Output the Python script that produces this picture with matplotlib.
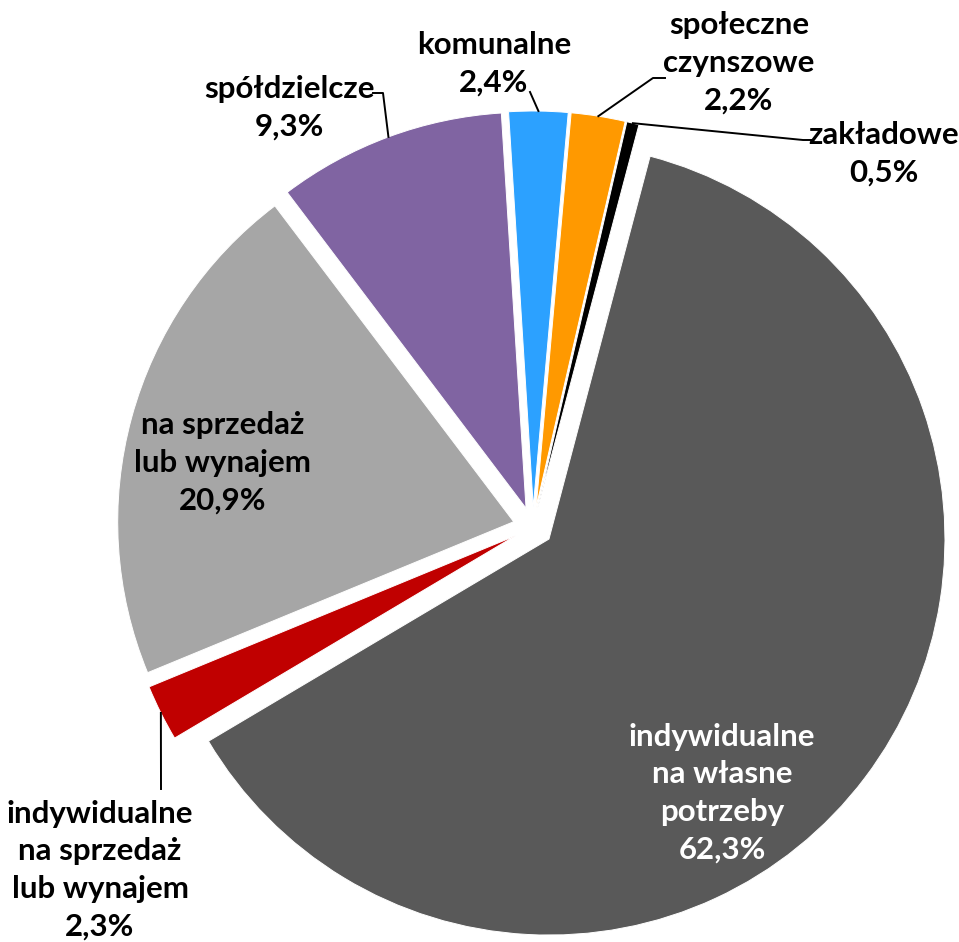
import numpy as np
import matplotlib.pyplot as plt

W, H = 959, 942

labels = ['indywidualne\nna własne\npotrzeby', 'indywidualne\nna sprzedaż\nlub wynajem',
          'na sprzedaż\nlub wynajem', 'spółdzielcze', 'komunalne',
          'społeczne\nczynszowe', 'zakładowe']
shares = [62.3, 2.3, 20.9, 9.3, 2.4, 2.2, 0.5]
colors = ['#595959', '#C00000', '#A6A6A6', '#8064A2', '#2CA1FF', '#FF9900', '#000000']
text_colors = ['white', 'black', 'black', 'black', 'black', 'black', 'black']

# label centres in image pixels (y down)
label_pos = [(722, 793), (100, 870), (223, 463), (289, 108), (494, 64), (739, 63), (884, 154)]
# leader line bends (None = label inside the slice)
leaders = [None, [(161, 789)], None, [(373, 93), (383, 93)], [(530, 92)],
           [(665, 78), (653, 78)], [(812, 140), (803, 140)]]

plt.rcParams['font.family'] = ['Lato', 'DejaVu Sans']

fig = plt.figure(figsize=(W / 100, H / 100), dpi=100)
ax = fig.add_axes([0, 0, 1, 1])

R = 396
# explode is in data units here (pixels), y axis flipped so slices run clockwise on screen
wedges, _ = ax.pie(shares, colors=colors, startangle=-75.2, counterclock=True,
                   explode=[20] * len(shares), radius=R, center=(533, 527),
                   wedgeprops=dict(edgecolor='white', linewidth=0.7))

ax.set_xlim(0, W)
ax.set_ylim(H, 0)
ax.set_aspect('equal')
ax.axis('off')

for i, w in enumerate(wedges):
    txt = labels[i] + '\n' + ('%.1f%%' % shares[i]).replace('.', ',')
    x, y = label_pos[i]
    ax.text(x, y, txt, ha='center', va='center', fontsize=22.5, fontweight='bold',
            color=text_colors[i], linespacing=1.42)
    if leaders[i] is not None:
        mid = np.deg2rad((w.theta1 + w.theta2) / 2)
        cx, cy = w.center
        px, py = cx + w.r * np.cos(mid), cy + w.r * np.sin(mid)
        pts = leaders[i] + [(px, py)]
        ax.plot([p[0] for p in pts], [p[1] for p in pts], color='black', lw=1.4)

fig.savefig('out.png', dpi=100)
